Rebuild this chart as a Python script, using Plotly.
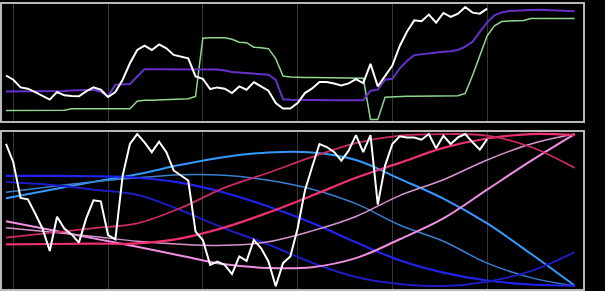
import plotly.graph_objects as go

# ---------------- data ----------------
# top panel (index positions 0..78)
price = [46, 41.7, 34, 32.7, 29.3, 25.7, 21.7, 29.3, 26, 25.3, 25, 30, 34, 31.7, 24.3, 29.3,
         41.7, 58.3, 71.7, 76, 71.7, 77.3, 73.3, 66.7, 65, 63.3, 45, 42.7, 32.3, 34, 32.7, 28.3,
         35, 31.7, 39.3, 35, 30.7, 18.3, 12.7, 12.7, 18.3, 28.3, 33, 39.5, 39.5, 38, 36, 38,
         42.3, 38.3, 57.7, 35, 45.5, 56, 75.5, 90, 101.5, 100.7, 107.3, 99.3, 109, 105, 108.3,
         115, 109.3, 108.3, 113.3]
trend = [30, 30, 30, 30, 30, 30, 30, 30, 30.5, 31, 31, 31.5, 31.7, 29.5, 25, 36.7, 37, 37.5,
         45, 52.3, 52.3, 52.3, 52.3, 52.3, 52.3, 52.3, 52.3, 52.3, 52.2, 52, 51, 49.5, 49, 48.3,
         47.5, 46.7, 46.7, 41.5, 22, 21.5, 21.3, 21.2, 21, 21, 21, 21, 21, 21, 21, 21, 30.7,
         31.7, 41.7, 42.7, 53, 60.5, 66.5, 67.5, 68.5, 69.7, 70, 70.5, 71.7, 75, 80, 90, 99.5,
         106.5, 109.5, 111, 111.5, 112, 112.3, 112.3, 112, 111.5, 111, 110.8, 110.7]
level = [10.7, 10.7, 10.7, 10.7, 10.7, 10.7, 10.7, 10.7, 11, 12.5, 12.5, 12.5, 12.5, 12.5,
         12.5, 12.5, 12.5, 12.5, 20, 21, 21, 21.2, 21.3, 21.5, 21.7, 22.5, 25, 83.5, 84, 84, 84,
         82.5, 79.5, 79, 74.5, 74, 73, 63, 45.5, 44.5, 44, 44, 44, 43.8, 43.7, 43.6, 43.5, 43.4,
         43.3, 43.3, 1.7, 1.7, 24, 24.5, 25, 25, 25.1, 25.2, 25.3, 25.4, 25.5, 25.5, 25.7, 28,
         46, 66, 86, 96, 100.3, 100.8, 101, 101.5, 103.3, 103.3, 103.3, 103.3, 103.3, 103.3, 103.3]

# bottom panel
osc = [0.935, 0.815, 0.581, 0.571, 0.478, 0.380, 0.232, 0.457, 0.380, 0.341, 0.287, 0.446,
       0.565, 0.558, 0.337, 0.309, 0.726, 0.935, 1.0, 0.946, 0.881, 0.950, 0.881, 0.761, 0.728,
       0.695, 0.359, 0.304, 0.141, 0.163, 0.141, 0.080, 0.196, 0.167, 0.304, 0.250, 0.163, 0.0,
       0.152, 0.196, 0.380, 0.628, 0.785, 0.935, 0.915, 0.883, 0.826, 0.891, 0.993, 0.881, 0.993,
       0.537, 0.793, 0.935, 0.985, 0.978, 0.978, 0.963, 1.0, 0.907, 0.989, 0.935, 0.978, 1.0,
       0.946, 0.898, 0.967]

curve_x = [0, 6, 12, 18, 24, 30, 36, 42, 48, 54, 60, 66, 72, 78]
curve_a = [0.578, 0.632, 0.686, 0.736, 0.798, 0.850, 0.879, 0.879, 0.830, 0.706, 0.576, 0.413, 0.214, 0.005]
curve_b = [0.618, 0.654, 0.687, 0.713, 0.733, 0.729, 0.697, 0.638, 0.543, 0.403, 0.296, 0.152, 0.057, 0.002]
curve_c = [0.726, 0.726, 0.723, 0.713, 0.680, 0.615, 0.524, 0.416, 0.289, 0.171, 0.090, 0.038, 0.012, 0.004]
curve_d = [0.685, 0.667, 0.635, 0.602, 0.500, 0.380, 0.275, 0.155, 0.061, 0.015, 0.002, 0.030, 0.100, 0.224]
curve_p1 = [0.428, 0.371, 0.315, 0.260, 0.201, 0.145, 0.121, 0.126, 0.185, 0.309, 0.446, 0.635, 0.824, 1.0]
curve_p2 = [0.385, 0.357, 0.328, 0.296, 0.276, 0.269, 0.292, 0.364, 0.459, 0.596, 0.700, 0.830, 0.935, 1.0]
curve_p3 = [0.276, 0.278, 0.280, 0.282, 0.315, 0.387, 0.485, 0.596, 0.713, 0.811, 0.909, 0.971, 1.0, 0.993]
curve_p4 = [0.320, 0.351, 0.382, 0.414, 0.515, 0.648, 0.746, 0.850, 0.941, 0.990, 1.0, 0.990, 0.915, 0.778]

grid_ticks = [1, 14, 27, 40, 53, 66]

# ---------------- figure ----------------
fig = go.Figure()
xi = list(range(len(trend)))
xp = list(range(len(price)))

fig.add_trace(go.Scatter(x=xi, y=level, mode="lines", line=dict(color="#8fd88f", width=1.5),
                         xaxis="x", yaxis="y"))
fig.add_trace(go.Scatter(x=xi, y=trend, mode="lines", line=dict(color="#6630cc", width=2),
                         xaxis="x", yaxis="y"))
fig.add_trace(go.Scatter(x=xp, y=price, mode="lines", line=dict(color="#ffffff", width=2),
                         xaxis="x", yaxis="y"))

curves = [
    (curve_a, "#3399ff", 2),
    (curve_b, "#3a7fd0", 1.5),
    (curve_c, "#2222ee", 2.2),
    (curve_d, "#1c1cc0", 2),
    (curve_p1, "#f08ee0", 2),
    (curve_p2, "#d894cc", 1.5),
    (curve_p3, "#f0306f", 2.2),
    (curve_p4, "#cc2a66", 1.8),
]
for ys, col, w in curves:
    fig.add_trace(go.Scatter(x=curve_x, y=ys, mode="lines", line=dict(color=col, width=w, shape="spline"),
                             xaxis="x2", yaxis="y2"))
fig.add_trace(go.Scatter(x=xp, y=osc, mode="lines", line=dict(color="#ffffff", width=2),
                         xaxis="x2", yaxis="y2"))

border = dict(showline=True, mirror=True, linecolor="#b8b8b8", linewidth=2,
              zeroline=False, showticklabels=False, ticks="")
xcommon = dict(range=[-0.549, 79.15], showgrid=True, gridcolor="#363636", gridwidth=1,
               tickmode="array", tickvals=grid_ticks, **border)
ycommon = dict(showgrid=False, **border)

fig.update_layout(
    width=605, height=291,
    margin=dict(l=2, r=22, t=2, b=2),
    paper_bgcolor="#000000", plot_bgcolor="#000000",
    showlegend=False,
    xaxis=dict(domain=[0, 1], anchor="y", **xcommon),
    yaxis=dict(domain=[0.5889, 1], anchor="x", range=[0, 118], **ycommon),
    xaxis2=dict(domain=[0, 1], anchor="y2", **xcommon),
    yaxis2=dict(domain=[0, 0.5523], anchor="x2", range=[-0.0176, 1.0163], **ycommon),
)

fig.write_html("out.html")
